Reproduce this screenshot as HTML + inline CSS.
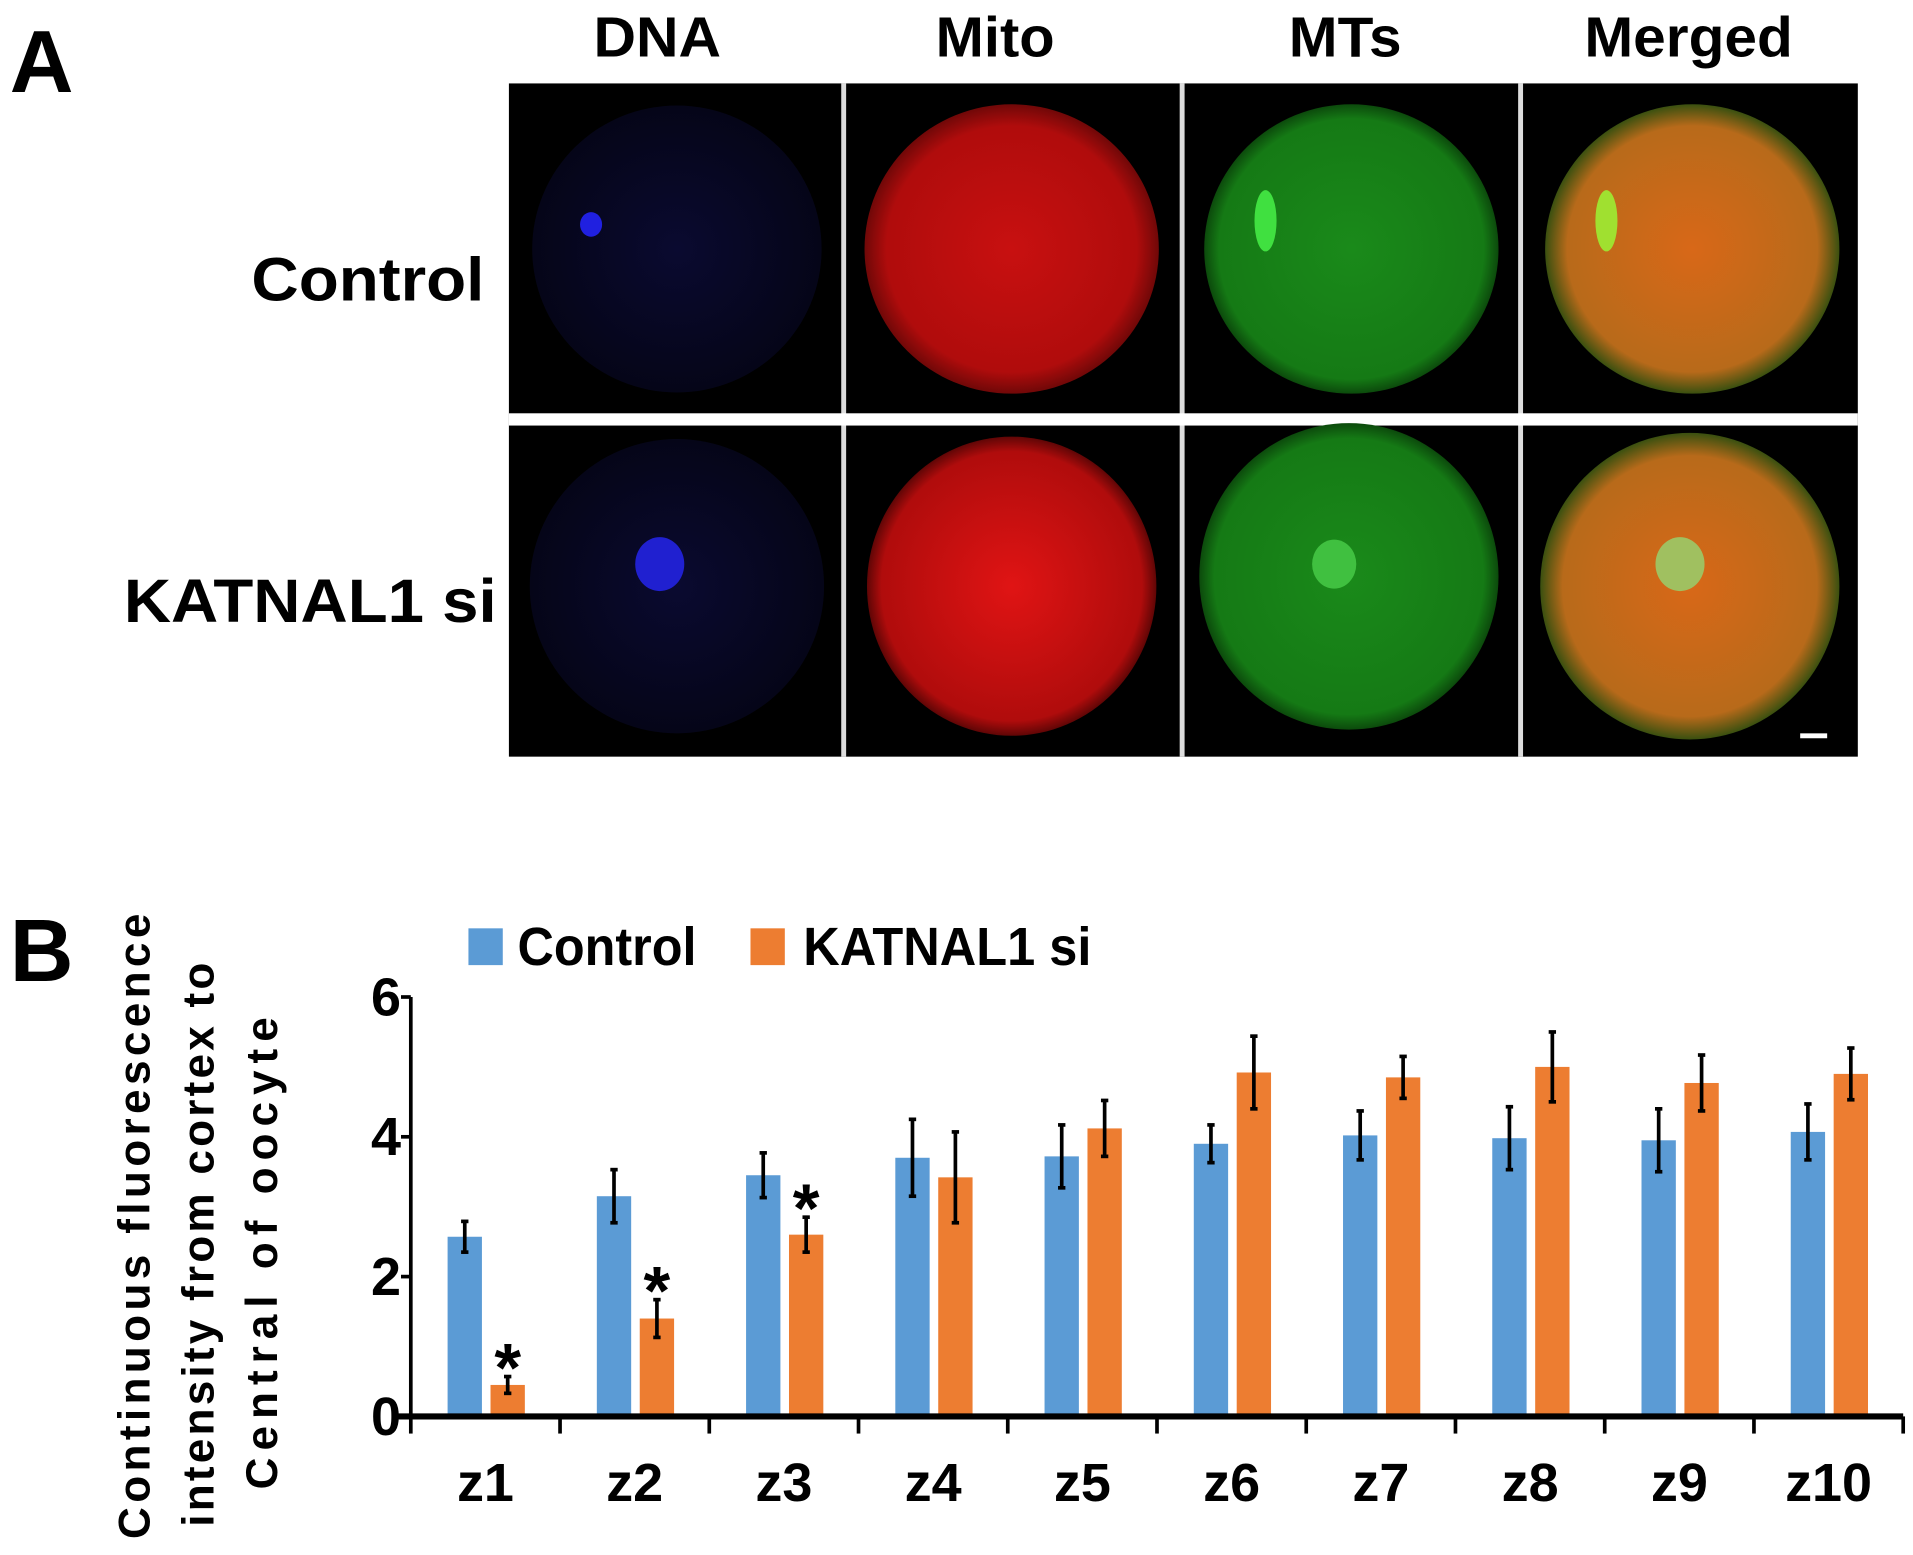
<!DOCTYPE html>
<html><head><meta charset="utf-8"><style>
html,body{margin:0;padding:0;background:#fff}
svg{display:block}
text{font-family:"Liberation Sans",sans-serif;font-weight:bold;fill:#000}
</style></head><body>
<svg id="fig" width="1913" height="1555" viewBox="0 0 1560 1268">
<defs>
<radialGradient id="gRed"><stop offset="0" stop-color="#c81010"/><stop offset="0.85" stop-color="#b00c0c"/><stop offset="1" stop-color="#700808"/></radialGradient>
<radialGradient id="gRed2"><stop offset="0" stop-color="#e01414"/><stop offset="0.9" stop-color="#b00c0c"/><stop offset="1" stop-color="#600606"/></radialGradient>
<radialGradient id="gGreen"><stop offset="0" stop-color="#1a8a1a"/><stop offset="0.9" stop-color="#157a15"/><stop offset="1" stop-color="#0c4a0c"/></radialGradient>
<radialGradient id="gOrange"><stop offset="0" stop-color="#d86818"/><stop offset="0.85" stop-color="#b86a1a"/><stop offset="1" stop-color="#3a5010"/></radialGradient>
<radialGradient id="gBlue"><stop offset="0" stop-color="#0a0a30"/><stop offset="1" stop-color="#050518"/></radialGradient>
</defs>
<text x="8" y="75" font-size="72">A</text>
<g font-size="46">
<text x="484" y="46" textLength="104" lengthAdjust="spacingAndGlyphs">DNA</text>
<text x="763" y="46" textLength="97" lengthAdjust="spacingAndGlyphs">Mito</text>
<text x="1051" y="46" textLength="92" lengthAdjust="spacingAndGlyphs">MTs</text>
<text x="1292" y="46" textLength="170" lengthAdjust="spacingAndGlyphs">Merged</text>
</g>
<text x="205" y="245" font-size="50" textLength="190" lengthAdjust="spacingAndGlyphs">Control</text>
<text x="101" y="507" font-size="50" textLength="304" lengthAdjust="spacingAndGlyphs">KATNAL1 si</text>
<g>
<rect x="415" y="68" width="1100" height="549" fill="#000"/>
<rect x="686" y="68" width="4" height="549" fill="#ddd"/>
<rect x="962" y="68" width="4" height="549" fill="#ddd"/>
<rect x="1238" y="68" width="4" height="549" fill="#ddd"/>
<rect x="415" y="337" width="1100" height="10" fill="#fff"/>
<ellipse cx="552" cy="203" rx="118" ry="117" fill="url(#gBlue)"/>
<ellipse cx="482" cy="183" rx="9" ry="10" fill="#2020e0"/>
<ellipse cx="825" cy="203" rx="120" ry="118" fill="url(#gRed)"/>
<ellipse cx="1102" cy="203" rx="120" ry="118" fill="url(#gGreen)"/>
<ellipse cx="1032" cy="180" rx="9" ry="25" fill="#40e040"/>
<ellipse cx="1380" cy="203" rx="120" ry="118" fill="url(#gOrange)"/>
<ellipse cx="1310" cy="180" rx="9" ry="25" fill="#a0e030"/>
<ellipse cx="552" cy="478" rx="120" ry="120" fill="url(#gBlue)"/>
<ellipse cx="538" cy="460" rx="20" ry="22" fill="#2020d0"/>
<ellipse cx="825" cy="478" rx="118" ry="122" fill="url(#gRed2)"/>
<ellipse cx="1100" cy="470" rx="122" ry="125" fill="url(#gGreen)"/>
<ellipse cx="1088" cy="460" rx="18" ry="20" fill="#40c040"/>
<ellipse cx="1378" cy="478" rx="122" ry="125" fill="url(#gOrange)"/>
<ellipse cx="1370" cy="460" rx="20" ry="22" fill="#a0c060"/>
<rect x="1468" y="598" width="22" height="4" fill="#fff"/>
</g>
<text x="8" y="800" font-size="72">B</text>
<g>
<rect x="382" y="757" width="28" height="30" fill="#5b9bd5"/>
<text x="422" y="787" font-size="44" textLength="146" lengthAdjust="spacingAndGlyphs">Control</text>
<rect x="612" y="757" width="28" height="30" fill="#ed7d31"/>
<text x="655" y="787" font-size="44" textLength="235" lengthAdjust="spacingAndGlyphs">KATNAL1 si</text>
</g>
<g font-size="36" text-anchor="middle">
<text transform="translate(122,1000) rotate(-90)" textLength="510" lengthAdjust="spacing">Continuous fluorescence</text>
<text transform="translate(174,1015) rotate(-90)" textLength="460" lengthAdjust="spacing">intensity  from cortex to</text>
<text transform="translate(226,1022) rotate(-90)" textLength="385" lengthAdjust="spacing">Central of oocyte</text>
</g>
<g id="chart"></g>
</svg>
<script>
const categories=["z1","z2","z3","z4","z5","z6","z7","z8","z9","z10"];
const controlVals=[2.57,3.15,3.45,3.7,3.72,3.9,4.02,3.98,3.95,4.07];
const controlErr=[0.22,0.38,0.32,0.55,0.45,0.27,0.35,0.45,0.45,0.4];
const katVals=[0.45,1.4,2.6,3.42,4.12,4.92,4.85,5.0,4.77,4.9];
const katErr=[0.12,0.27,0.25,0.65,0.4,0.52,0.3,0.5,0.4,0.37];
const significant=[true,true,true,false,false,false,false,false,false,false];
const yTicks=[0,2,4,6];
const NS="http://www.w3.org/2000/svg";
const g=document.getElementById('chart');
const x0=335,x1=1552,y0=1155,yTop=813,yMax=6;
const groupW=(x1-x0)/categories.length;
const y=v=>y0-(v/yMax)*(y0-yTop);
function mk(t,a){const e=document.createElementNS(NS,t);for(const k in a)e.setAttribute(k,a[k]);g.appendChild(e);return e;}
let e=mk('line',{x1:x0,y1:yTop,x2:x0,y2:y0,stroke:'#000','stroke-width':3});


yTicks.forEach(t=>{
 let l=mk('line',{x1:x0-8,y1:y(t),x2:x0,y2:y(t),stroke:'#000','stroke-width':3});
 
 
 let tx=mk('text',{x:x0-8,y:y(t)+15,'font-size':44,'text-anchor':'end'});tx.textContent=t;
 
 
});
function errbar(cx,v,er){
 let l=mk('line',{x1:cx,y1:y(v+er),x2:cx,y2:y(Math.max(0,v-er)),stroke:'#000','stroke-width':3});
 
 
 [v+er,Math.max(0,v-er)].forEach(w=>{let c=mk('line',{x1:cx-3,y1:y(w),x2:cx+3,y2:y(w),stroke:'#000','stroke-width':3});
 
 });
}
categories.forEach((c,i)=>{
 const gx=x0+i*groupW;
 const bx=gx+30,ox=gx+65,bw=28;
 let b=mk('rect',{x:bx,y:y(controlVals[i]),width:bw,height:y0-y(controlVals[i]),fill:'#5b9bd5'});
 
 
 let o=mk('rect',{x:ox,y:y(katVals[i]),width:bw,height:y0-y(katVals[i]),fill:'#ed7d31'});
 
 
 errbar(bx+bw/2,controlVals[i],controlErr[i]);
 errbar(ox+bw/2,katVals[i],katErr[i]);
 if(significant[i]){let s=mk('text',{x:ox+bw/2,y:y(katVals[i]+katErr[i])+12,'font-size':56,'text-anchor':'middle'});s.textContent='*';
 
 }
 let t=mk('line',{x1:gx,y1:y0,x2:gx,y2:y0+14,stroke:'#000','stroke-width':3});
 
 
 let lb=mk('text',{x:gx+groupW/2,y:1224,'font-size':44,'text-anchor':'middle'});lb.textContent=c;
 
 
});
let lt=mk('line',{x1:x1,y1:y0,x2:x1,y2:y0+14,stroke:'#000','stroke-width':3});


let ax=mk('line',{x1:320,y1:y0,x2:x1,y2:y0,stroke:'#000','stroke-width':5});


</script>
</body></html>
